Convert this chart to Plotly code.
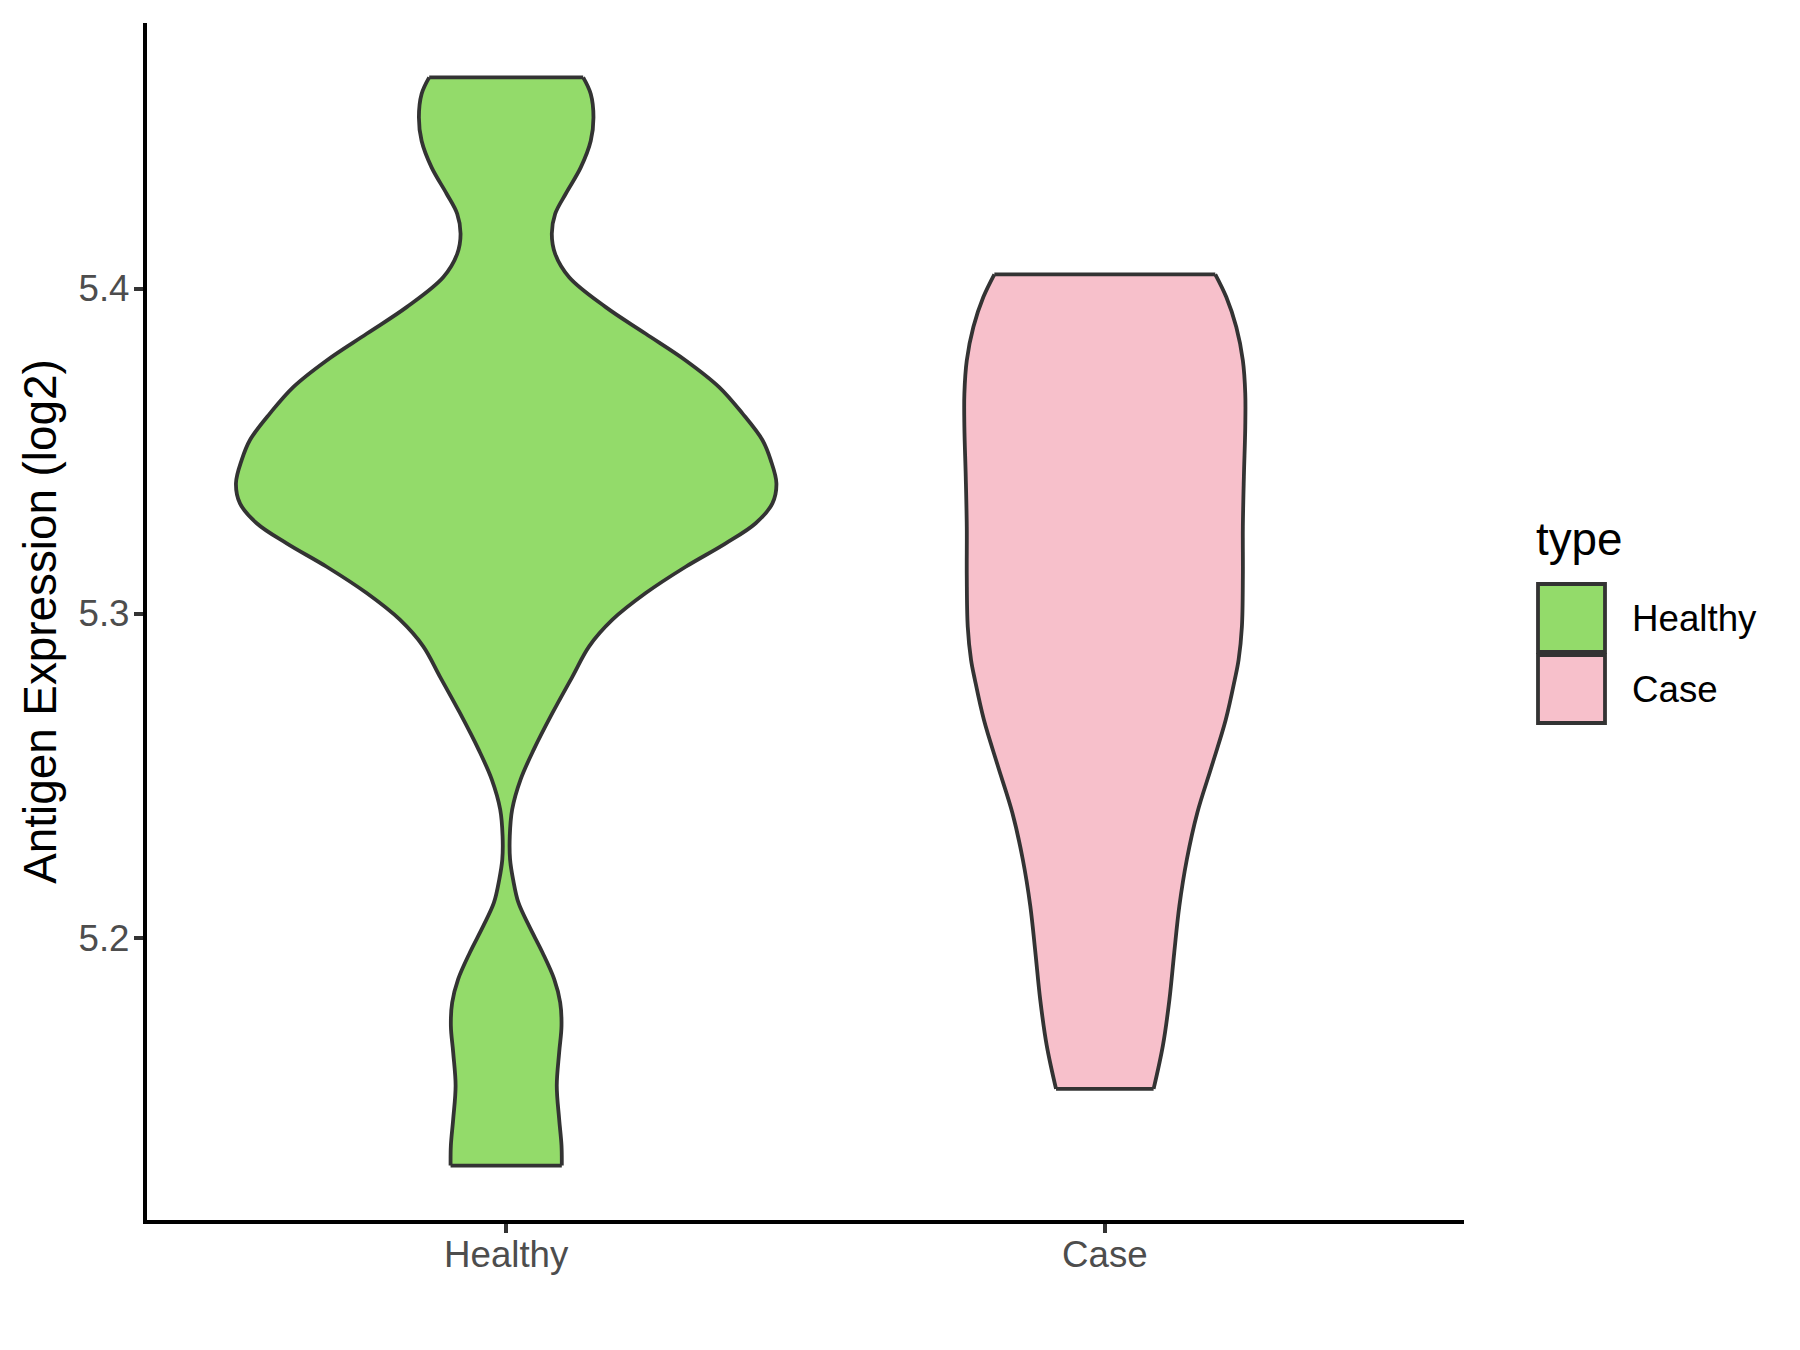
import plotly.graph_objects as go

# ---- data ----
categories = ["Healthy", "Case"]
fill_colors = ["#93DB6A", "#F7C0CB"]

# Healthy violin: expression levels (log2) and violin half-width (x units)
healthy_expr = [5.4650, 5.4599, 5.4527, 5.4455, 5.4373, 5.4292, 5.4230, 5.4169, 5.4107, 5.4035,
                5.3943, 5.3861, 5.3779, 5.3697, 5.3616, 5.3534, 5.3472, 5.3401, 5.3339, 5.3278,
                5.3216, 5.3144, 5.3063, 5.2981, 5.2899, 5.2806, 5.2694, 5.2581, 5.2489, 5.2397,
                5.2315, 5.2243, 5.2182, 5.2110, 5.2038, 5.1957, 5.1875, 5.1803, 5.1731, 5.1649,
                5.1547, 5.1444, 5.1363, 5.1301]
healthy_width = [0.1286, 0.1413, 0.1458, 0.1413, 0.1246, 0.0995, 0.0818, 0.0762, 0.0818, 0.1052,
                 0.1663, 0.2331, 0.2999, 0.3557, 0.3946, 0.4280, 0.4419, 0.4514, 0.4447, 0.4168,
                 0.3667, 0.2999, 0.2331, 0.1775, 0.1386, 0.1107, 0.0773, 0.0460, 0.0240, 0.0100,
                 0.0060, 0.0065, 0.0115, 0.0205, 0.0384, 0.0606, 0.0802, 0.0902, 0.0924, 0.0885,
                 0.0845, 0.0885, 0.0924, 0.0929]

# Case violin
case_expr = [5.4044, 5.3974, 5.3882, 5.3779, 5.3677, 5.3574, 5.3421, 5.3267, 5.3114, 5.2960,
             5.2858, 5.2796, 5.2673, 5.2530, 5.2387, 5.2243, 5.2100, 5.1957, 5.1813, 5.1670,
             5.1537]
case_width = [0.1845, 0.2029, 0.2196, 0.2306, 0.2346, 0.2346, 0.2323, 0.2306, 0.2306, 0.2290,
              0.2235, 0.2170, 0.2020, 0.1785, 0.1545, 0.1370, 0.1245, 0.1160, 0.1080, 0.0970,
              0.0815]

y_ticks = [5.2, 5.3, 5.4]
y_ticklabels = ["5.2", "5.3", "5.4"]

profiles = [(healthy_expr, healthy_width), (case_expr, case_width)]

FONT = "Liberation Sans, Arial, sans-serif"
TICK_PX = 36.7
TITLE_PX = 45.8
OUTLINE = "#333333"
LW = 3.8

fig = go.Figure()
for i, (cat, col, (ys, ws)) in enumerate(zip(categories, fill_colors, profiles)):
    pos = i + 1
    # left edge
    fig.add_trace(go.Scatter(
        x=[pos - w for w in ws], y=ys, mode="lines",
        line=dict(color=OUTLINE, width=LW, shape="spline", smoothing=1.0),
        showlegend=False, hoverinfo="skip", name=cat))
    # right edge, filled to the left edge
    fig.add_trace(go.Scatter(
        x=[pos + w for w in ws], y=ys, mode="lines", fill="tonextx", fillcolor=col,
        line=dict(color=OUTLINE, width=LW, shape="spline", smoothing=1.0),
        showlegend=False, hoverinfo="skip", name=cat))
    # flat top and bottom caps
    fig.add_trace(go.Scatter(
        x=[pos - ws[0], pos + ws[0], None, pos - ws[-1], pos + ws[-1]],
        y=[ys[0], ys[0], None, ys[-1], ys[-1]], mode="lines",
        line=dict(color=OUTLINE, width=LW), showlegend=False, hoverinfo="skip", name=cat))

ymin = min(healthy_expr + case_expr)
ymax = max(healthy_expr + case_expr)
pad = 0.05 * (ymax - ymin)

# page is offset by the default 8px body margin
fig.update_layout(
    width=1792, height=1342,
    margin=dict(l=139, r=336, t=15, b=130),
    paper_bgcolor="white", plot_bgcolor="white",
    font=dict(family=FONT, color="#000000"),
    showlegend=False,
    xaxis=dict(
        range=[0.4, 2.6], tickvals=[1, 2], ticktext=categories,
        showgrid=False, zeroline=False,
        showline=True, linecolor="#000000", linewidth=4.3,
        ticks="outside", ticklen=9, tickwidth=3.5, tickcolor="#333333",
        tickfont=dict(size=TICK_PX, color="#4D4D4D", family=FONT),
        ticklabelstandoff=-10,
    ),
    yaxis=dict(
        range=[ymin - pad, ymax + pad], tickvals=y_ticks, ticktext=y_ticklabels,
        showgrid=False, zeroline=False,
        showline=True, linecolor="#000000", linewidth=4.3,
        ticks="outside", ticklen=9, tickwidth=3.5, tickcolor="#333333",
        tickfont=dict(size=TICK_PX, color="#4D4D4D", family=FONT),
        ticklabelstandoff=-3,
        title=dict(text="Antigen Expression (log2)",
                   font=dict(size=TITLE_PX, color="#000000", family=FONT),
                   standoff=8),
    ),
)

# ---- legend (ggplot style, drawn in paper coordinates of the plot area) ----
plot_left, plot_right = 147, 1464
plot_top, plot_bottom = 23, 1220
pw = plot_right - plot_left
ph = plot_bottom - plot_top

def px_x(v):
    return (v - plot_left) / pw

def px_y(v):
    return (plot_bottom - v) / ph

fig.add_annotation(text="type", x=px_x(1534), y=px_y(539), xref="paper", yref="paper",
                   xanchor="left", yanchor="middle", showarrow=False,
                   font=dict(size=TITLE_PX, color="#000000", family=FONT))
key_tops = [584, 655]
key_h = 68
for cat, col, top in zip(categories, fill_colors, key_tops):
    fig.add_shape(type="rect", xref="paper", yref="paper",
                  x0=px_x(1538), x1=px_x(1605), y0=px_y(top), y1=px_y(top + key_h),
                  fillcolor=col, line=dict(color="#333333", width=3.8))
    fig.add_annotation(text=cat, x=px_x(1630), y=px_y(top + key_h / 2), xref="paper",
                       yref="paper", xanchor="left", yanchor="middle", showarrow=False,
                       font=dict(size=TICK_PX, color="#000000", family=FONT))

fig.write_html("out.html")
